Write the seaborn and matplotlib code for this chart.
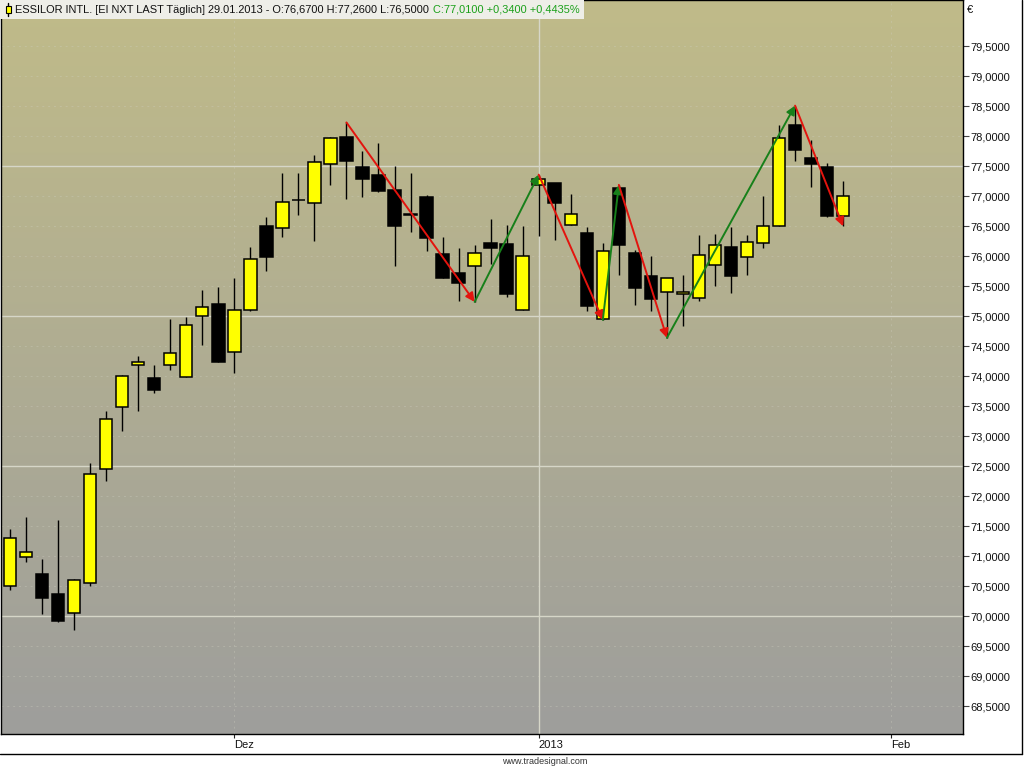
import numpy as np
import pandas as pd
import matplotlib
matplotlib.use("Agg")
import matplotlib.pyplot as plt
import seaborn as sns
from matplotlib.patches import Rectangle
from matplotlib.lines import Line2D

# ---------------- data ----------------
trading_days = pd.bdate_range("2012-11-13", "2013-02-01")
holidays = pd.to_datetime(["2012-12-25", "2012-12-26", "2013-01-01"])
trading_days = trading_days[~trading_days.isin(holidays)]

opens = [70.51, 70.99, 70.70, 70.38, 70.06, 70.56, 72.46, 73.49, 74.18, 73.98,
         74.18, 73.99, 75.00, 75.20, 74.41, 75.10, 76.51, 76.47, 76.93, 76.89,
         77.54, 77.98, 77.48, 77.36, 77.11, 76.69, 76.99, 76.04, 75.72, 75.84,
         76.22, 76.20, 75.10, 77.19, 77.22, 76.52, 76.39, 74.95, 77.14, 76.06,
         75.67, 75.41, 75.37, 75.31, 75.85, 76.15, 75.99, 76.22, 76.50, 78.18,
         77.64, 77.49, 76.67]
highs = [71.45, 71.66, 70.96, 71.61, 70.62, 72.55, 73.42, 74.02, 74.33, 74.19,
         74.95, 74.98, 75.44, 75.48, 75.64, 76.16, 76.66, 77.39, 77.39, 77.68,
         77.98, 78.23, 77.75, 77.88, 77.51, 77.39, 77.02, 76.32, 76.14, 76.18,
         76.62, 76.52, 76.50, 77.36, 77.22, 77.03, 76.49, 76.22, 77.19, 76.11,
         76.00, 75.64, 75.69, 76.35, 76.37, 76.48, 76.36, 77.00, 78.18, 78.51,
         77.94, 77.55, 77.26]
lows = [70.44, 70.90, 70.04, 69.90, 69.77, 70.51, 72.25, 73.09, 73.42, 73.72,
        74.11, 73.99, 74.52, 74.23, 74.06, 75.09, 75.76, 76.32, 76.69, 76.25,
        77.19, 76.96, 76.98, 77.07, 75.84, 76.40, 76.09, 75.63, 75.25, 75.24,
        75.87, 75.32, 75.10, 76.34, 76.27, 76.52, 75.09, 74.94, 75.68, 75.18,
        75.09, 74.64, 74.84, 75.25, 75.51, 75.38, 75.68, 76.14, 76.50, 77.59,
        77.16, 76.65, 76.50]
closes = [71.30, 71.07, 70.30, 69.93, 70.61, 72.37, 73.29, 74.01, 74.23, 73.77,
          74.39, 74.86, 75.15, 74.24, 75.10, 75.95, 75.98, 76.90, 76.94, 77.57,
          77.97, 77.58, 77.28, 77.08, 76.50, 76.70, 76.31, 75.64, 75.55, 76.05,
          76.14, 75.37, 76.01, 77.28, 76.89, 76.70, 75.17, 76.09, 76.18, 75.47,
          75.29, 75.64, 75.40, 76.02, 76.18, 75.67, 76.23, 76.50, 77.97, 77.77,
          77.54, 76.67, 77.01]

# zigzag pivots (candle index, 'H' = high / 'L' = low)
pivot_idx = [21, 29, 33, 37, 38, 41, 49, 52]
pivot_kind = ["H", "L", "H", "L", "H", "L", "H", "L"]

month_labels = {12: "Dez", 1: "2013", 2: "Feb"}
y_ticks = np.arange(68.5, 79.51, 0.5)

title_name = "ESSILOR INTL. [EI NXT LAST Täglich]"

# ---------------- frame ----------------
n = len(closes)
df = pd.DataFrame({"date": trading_days[:n], "open": opens, "high": highs,
                   "low": lows, "close": closes})
df["x"] = np.arange(n)
df["up"] = df["close"] >= df["open"]

sns.set_theme(style="white")
plt.rcParams["font.family"] = ["Liberation Sans", "DejaVu Sans"]

W, H = 1024, 768
fig = plt.figure(figsize=(W / 100, H / 100), dpi=100)
fig.patch.set_facecolor("white")
ax = fig.add_axes([1 / W, 34 / H, 962 / W, 734 / H])

# gradient background
top_c = np.array([192, 187, 137]) / 255
bot_c = np.array([158, 158, 156]) / 255
t = np.linspace(0, 1, 256)[:, None]
grad = (top_c[None, :] * (1 - t) + bot_c[None, :] * t)[:, None, :]
ax.imshow(grad, extent=[0, 1, 0, 1], transform=ax.transAxes, aspect="auto",
          zorder=0, interpolation="bilinear")

# grid
for v in y_ticks:
    if abs((v / 2.5) - round(v / 2.5)) < 1e-6:
        ax.axhline(v, color="#D6D6C8", lw=1.0, zorder=1)
    else:
        ax.axhline(v, color="#D0D0C2", lw=0.7, ls=(0, (2, 4)), alpha=0.35, zorder=1)

month_pos = [i for i in range(1, len(trading_days))
             if trading_days[i].month != trading_days[i - 1].month]
for p in month_pos:
    if trading_days[p].month == 1:
        ax.axvline(p, color="#D6D6C8", lw=1.0, zorder=1)
    else:
        ax.axvline(p, color="#D0D0C2", lw=0.7, ls=(0, (2, 4)), alpha=0.35, zorder=1)

# candles
ax.vlines(df["x"], df["low"], df["high"], color="black", lw=1.0, zorder=2)
body_bottom = np.minimum(df["open"], df["close"])
body_h = np.maximum(np.abs(df["close"] - df["open"]), 0.005)
ax.bar(df["x"], body_h, bottom=body_bottom, width=0.78,
       color=np.where(df["up"], "#FFFF00", "#000000"),
       edgecolor="black", linewidth=1.1, zorder=3)

# zigzag arrows
pv = [highs[i] if k == "H" else lows[i] for i, k in zip(pivot_idx, pivot_kind)]
for a in range(len(pivot_idx) - 1):
    x1, y1 = pivot_idx[a], pv[a]
    x2, y2 = pivot_idx[a + 1], pv[a + 1]
    col = "#E3140E" if y2 < y1 else "#17801A"
    ax.annotate("", xy=(x2, y2), xytext=(x1, y1), zorder=4,
                arrowprops=dict(arrowstyle="-|>", color=col, lw=1.4,
                                mutation_scale=13, shrinkA=0, shrinkB=0))

# axes limits & ticks
ax.set_xlim(-0.56, 59.48)
ax.set_ylim(68.04, 80.27)
ax.yaxis.tick_right()
ax.set_yticks(y_ticks)
ax.set_yticklabels([f"{v:.4f}".replace(".", ",") for v in y_ticks])
ax.tick_params(axis="y", which="major", right=True, left=False, direction="out",
               length=4, width=0.8, color="#444444", labelsize=8, pad=1.5,
               labelcolor="#111111")
ax.set_xticks(month_pos)
ax.set_xticklabels([month_labels[trading_days[p].month] for p in month_pos],
                   ha="left")
ax.tick_params(axis="x", bottom=True, direction="out", length=3, width=0.8,
               color="#222222", labelsize=8, pad=1.5, labelcolor="#111111")
for lbl in ax.get_xticklabels():
    lbl.set_horizontalalignment("left")
ax.grid(False)
for s in ax.spines.values():
    s.set_color("black")
    s.set_linewidth(1.0)
    s.set_visible(True)

# outer frame lines
fig.add_artist(Line2D([0, 1022 / W], [1 - 754 / H, 1 - 754 / H],
                      color="black", lw=1.0, transform=fig.transFigure))
fig.add_artist(Line2D([1022 / W, 1022 / W], [1 - 754 / H, 1],
                      color="black", lw=1.0, transform=fig.transFigure))

fig.text(967 / W, 1 - 10 / H, "€", fontsize=8, va="center", ha="left",
         color="#111111")
fig.text(545 / W, 1 - 761 / H, "www.tradesignal.com", fontsize=6.5,
         ha="center", va="center", color="#333333")

# title
last = df.iloc[-1]
prev_close = df["close"].iloc[-2]
chg = last["close"] - prev_close
pct = chg / prev_close * 100
fmt = lambda v: f"{v:.4f}".replace(".", ",")
t1_txt = (f"{title_name} {last['date'].strftime('%d.%m.%Y')} - "
          f"O:{fmt(last['open'])} H:{fmt(last['high'])} L:{fmt(last['low'])}")
t2_txt = f"C:{fmt(last['close'])} +{fmt(chg)} +{fmt(pct)}%"
t1 = fig.text(15 / W, 1 - 10 / H, t1_txt, fontsize=7.9, va="center",
              ha="left", color="#111111", zorder=7)
fig.canvas.draw()
r = fig.canvas.get_renderer()
bb = t1.get_window_extent(r)
t2 = fig.text((bb.x1 + 4) / W, 1 - 10 / H, t2_txt, fontsize=7.9,
              va="center", ha="left", color="#1AA01A", zorder=7)
fig.canvas.draw()
bb2 = t2.get_window_extent(r)
fig.add_artist(Rectangle((0, 1 - 19 / H), (bb2.x1 + 4) / W, 19 / H,
                         transform=fig.transFigure, facecolor="#EEEEE8",
                         edgecolor="none", zorder=6))
# small candle icon
fig.add_artist(Line2D([8 / W, 8 / W], [1 - 16 / H, 1 - 3 / H], color="black",
                      lw=1.0, transform=fig.transFigure, zorder=7))
fig.add_artist(Rectangle((5.5 / W, 1 - 13 / H), 5 / W, 7 / H,
                         transform=fig.transFigure, facecolor="#FFFF00",
                         edgecolor="black", lw=0.8, zorder=8))

fig.savefig("out.png", dpi=100, facecolor="white")
